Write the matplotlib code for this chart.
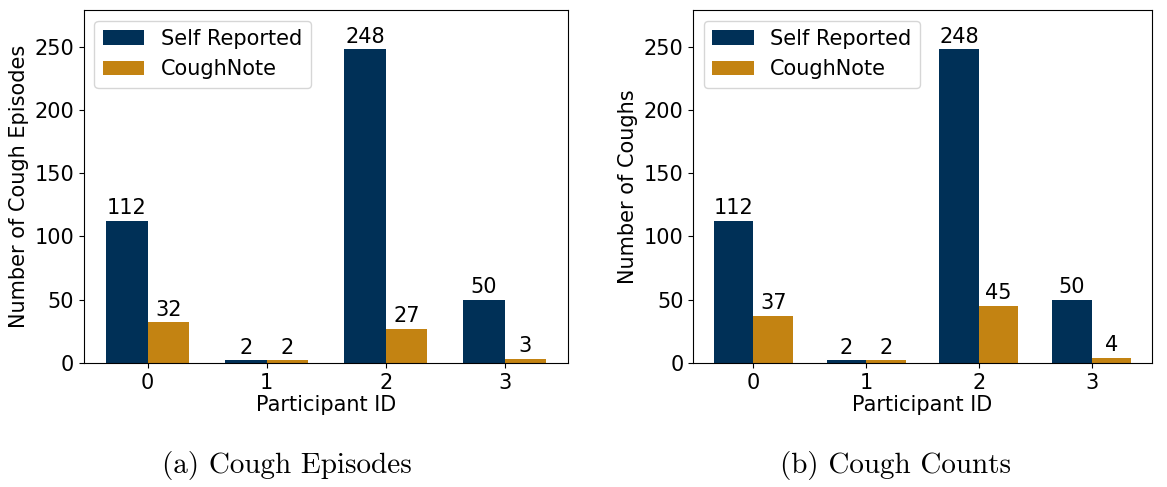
import matplotlib
matplotlib.use("Agg")
import matplotlib.pyplot as plt
import numpy as np

participants = [0, 1, 2, 3]
self_reported = [112, 2, 248, 50]
coughnote_episodes = [32, 2, 27, 3]
coughnote_counts = [37, 2, 45, 4]

NAVY = "#003057"
GOLD = "#C38312"

plt.rcParams["font.size"] = 15

fig = plt.figure(figsize=(11.67, 4.87), dpi=100)
ax1 = fig.add_axes([0.072, 0.255, 0.415, 0.724])
ax2 = fig.add_axes([0.594, 0.255, 0.393, 0.724])


def _plot_panel(ax, cough, ylabel):
    x = np.arange(len(participants))
    w = 0.35
    b1 = ax.bar(x - w / 2, self_reported, w, color=NAVY, label="Self Reported")
    b2 = ax.bar(x + w / 2, cough, w, color=GOLD, label="CoughNote")
    ax.bar_label(b1, padding=2, fontsize=15)
    ax.bar_label(b2, padding=2, fontsize=15)
    ax.set_xticks(x)
    ax.set_xticklabels([str(p) for p in participants])
    ax.set_ylim(0, 279)
    ax.set_xlabel("Participant ID", labelpad=2)
    ax.set_ylabel(ylabel)
    ax.legend(loc="upper left", fontsize=15)


_plot_panel(ax1, coughnote_episodes, "Number of Cough Episodes")
_plot_panel(ax2, coughnote_counts, "Number of Coughs")

fig.text(0.246, 0.045, "(a) Cough Episodes", ha="center", va="center",
         family="cmr10", fontsize=21)
fig.text(0.767, 0.045, "(b) Cough Counts", ha="center", va="center",
         family="cmr10", fontsize=21)

fig.savefig("out.png", dpi=100)
